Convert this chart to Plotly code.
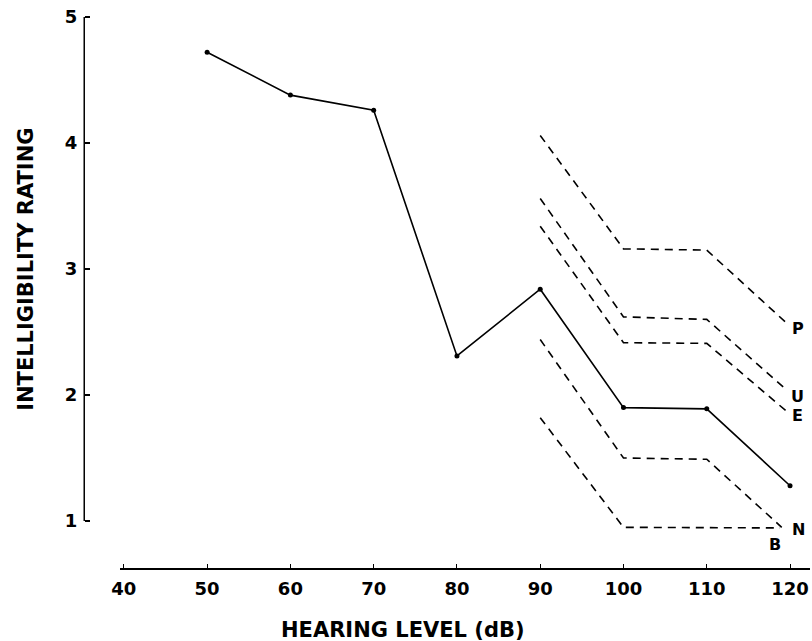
import plotly.graph_objects as go

# Main (solid) series
hl_x = [50, 60, 70, 80, 90, 100, 110, 120]
rating_y = [4.72, 4.38, 4.26, 2.31, 2.84, 1.90, 1.89, 1.28]

# Dashed series (label, x values, y values)
p_x = [90, 100, 110, 119.6]
p_y = [4.06, 3.16, 3.15, 2.57]
u_x = [90, 100, 110, 119.6]
u_y = [3.56, 2.62, 2.60, 2.04]
e_x = [90, 100, 110, 119.6]
e_y = [3.34, 2.415, 2.41, 1.87]
n_x = [90, 100, 110, 119.0]
n_y = [2.44, 1.50, 1.49, 0.95]
b_x = [90, 100, 118.8]
b_y = [1.82, 0.95, 0.945]

label_names = ["P", "U", "E", "N", "B"]
label_x = [120.9, 120.9, 120.9, 121.0, 118.2]
label_y = [2.53, 1.99, 1.84, 0.93, 0.81]

x_ticks = [40, 50, 60, 70, 80, 90, 100, 110, 120]
y_ticks = [1, 2, 3, 4, 5]

W, H = 812, 641
def px(v):
    return v / W
def py(v):
    return 1 - v / H

FONT = "DejaVu Sans"

fig = go.Figure()

for xs, ys in [(p_x, p_y), (u_x, u_y), (e_x, e_y), (n_x, n_y), (b_x, b_y)]:
    fig.add_trace(go.Scatter(x=xs, y=ys, mode="lines",
                             line=dict(color="black", width=1.6, dash="8px,6px"),
                             hoverinfo="skip", showlegend=False))

fig.add_trace(go.Scatter(x=hl_x, y=rating_y, mode="lines+markers",
                         line=dict(color="black", width=1.6),
                         marker=dict(color="black", size=5),
                         showlegend=False))

for name, lx, ly in zip(label_names, label_x, label_y):
    fig.add_annotation(x=lx, y=ly, text=name, showarrow=False,
                       font=dict(family=FONT, size=16, color="black", weight="bold"),
                       xanchor="center", yanchor="middle")

# y axis line from 1 to 5
fig.add_shape(type="line", xref="paper", yref="y", x0=px(77), x1=px(77),
              y0=y_ticks[0], y1=y_ticks[-1], line=dict(color="black", width=1.5))

fig.add_annotation(xref="paper", yref="paper", x=px(18), y=py(269),
                   text="INTELLIGIBILITY RATING", textangle=-90, showarrow=False,
                   font=dict(family=FONT, size=21, color="black", weight="bold"),
                   xanchor="center", yanchor="middle")
fig.add_annotation(xref="paper", yref="paper", x=px(399), y=py(630),
                   text="HEARING LEVEL (dB)", showarrow=False,
                   font=dict(family=FONT, size=21, color="black", weight="bold"),
                   xanchor="center", yanchor="middle")

fig.update_layout(
    width=W, height=H,
    margin=dict(l=0, r=0, t=0, b=0),
    paper_bgcolor="white", plot_bgcolor="white",
    xaxis=dict(range=[39.5, 122.4], domain=[px(112.8), px(810)],
               anchor="free", position=py(569),
               showline=True, linecolor="black", linewidth=1.5,
               showgrid=False, zeroline=False,
               tickvals=x_ticks, ticks="inside", ticklen=4, tickcolor="black",
               ticklabelstandoff=4,
               tickfont=dict(family=FONT, size=18, color="black", weight="bold")),
    yaxis=dict(range=[0.72, 5.1], domain=[py(556.3), py(4.4)],
               anchor="free", position=px(77),
               showline=False, showgrid=False, zeroline=False,
               tickvals=y_ticks, ticks="inside", ticklen=5, tickcolor="black",
               tickwidth=1.5, ticklabelstandoff=7,
               tickfont=dict(family=FONT, size=18, color="black", weight="bold")),
)

fig.write_html("out.html")
